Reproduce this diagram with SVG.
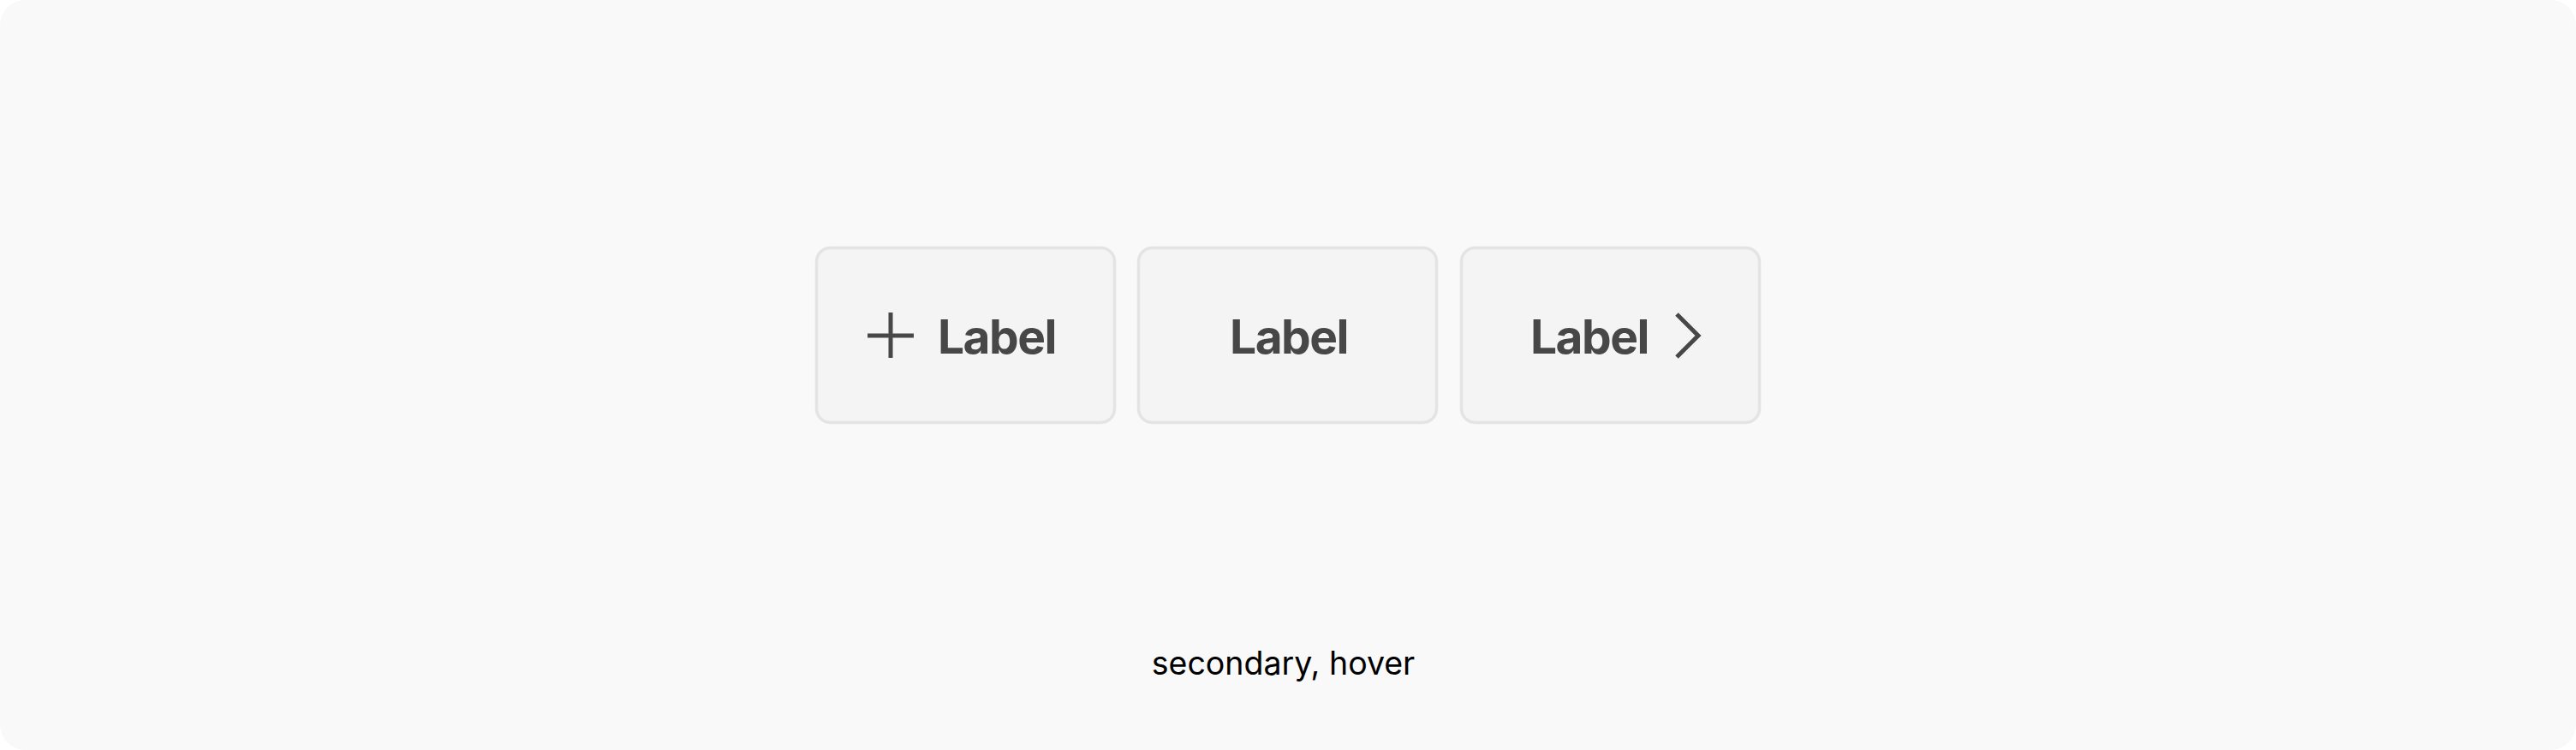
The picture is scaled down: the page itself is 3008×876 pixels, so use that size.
<svg xmlns="http://www.w3.org/2000/svg" width="3008" height="876" viewBox="0 0 3008 876">
<style>
.btn{fill:#f4f4f4;stroke:#e4e4e4;stroke-width:3.5}
.lbl{font-family:Inter,"Liberation Sans",sans-serif;font-weight:700;font-size:55px;letter-spacing:-1.5px;fill:#474747}
.ico{fill:none;stroke:#474747;stroke-width:5}
.cap{font-family:Inter,"Liberation Sans",sans-serif;font-size:37.5px;fill:#000}
</style>
<rect width="3008" height="876" fill="#ffffff"/>
<rect id="background" x="0" y="0" width="3008" height="876" rx="30" fill="#f9f9f9"/>
<g id="button-icon-left">
<rect class="btn" x="953.5" y="289.5" width="348" height="204" rx="16"/>
<path class="ico" d="M1013 392H1067M1040 365V418"/>
<text class="lbl" x="1095" y="413">Label</text>
</g>
<g id="button-label">
<rect class="btn" x="1329.5" y="289.5" width="348" height="204" rx="16"/>
<text class="lbl" x="1505" y="413" text-anchor="middle">Label</text>
</g>
<g id="button-icon-right">
<rect class="btn" x="1706.5" y="289.5" width="348" height="204" rx="16"/>
<text class="lbl" x="1787" y="413">Label</text>
<path class="ico" d="M1958 367L1983 392L1958 417"/>
</g>
<g id="caption">
<text class="cap" x="1498.5" y="788" text-anchor="middle">secondary, hover</text>
</g>
<g id="connectors"/>
</svg>
